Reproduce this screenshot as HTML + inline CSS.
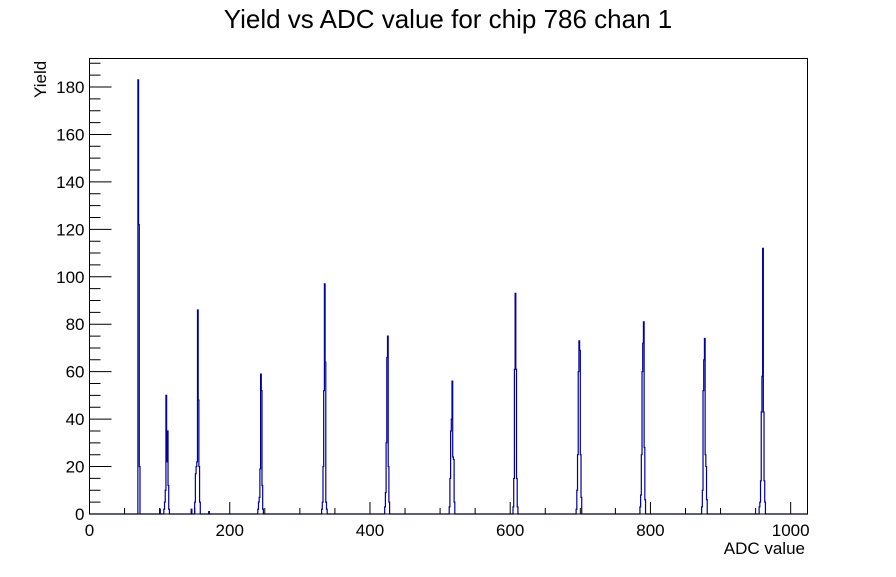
<!DOCTYPE html>
<html><head><meta charset="utf-8"><style>
body{margin:0;background:#fff}
svg text{font-family:"Liberation Sans",sans-serif;fill:#000}
</style></head><body>
<svg id="s" width="896" height="572" xmlns="http://www.w3.org/2000/svg">
<rect width="896" height="572" fill="#fff"/>
<text x="448" y="28" font-size="26" text-anchor="middle">Yield vs ADC value for chip 786 chan 1</text>
<text x="805" y="554" font-size="17" text-anchor="end">ADC value</text>
<text transform="translate(46,98) rotate(-90)" font-size="17">Yield</text>
<g id="ax" stroke="#000" stroke-width="1" fill="none"></g>
<g id="lb" font-size="17"></g>
<path id="h" fill="none" stroke="#00009c" stroke-width="1.2"/>
<rect x="89.5" y="58.5" width="718" height="455.5" fill="none" stroke="#000"/>
</svg>
<script>
const X0=89.5,PX=718/1024,Y0=514,SY=427/180;
const ax=document.getElementById('ax'),lb=document.getElementById('lb');
let d='';
for(let v=0;v<=1000;v+=50){const x=X0+v*PX;const L=v%200==0?12:6;d+=`M${x},${Y0}V${Y0-L}`;
 if(v%200==0)lb.innerHTML+=`<text x="${x}" y="536" text-anchor="middle">${v}</text>`;}
for(let v=0;v<=190;v+=5){const y=Y0-v*SY;const L=v%20==0?22:11;d+=`M${X0},${y}H${X0+L}`;
 if(v%20==0)lb.innerHTML+=`<text x="${X0-5}" y="${y+6}" text-anchor="end">${v}</text>`;}
ax.innerHTML=`<path d="${d}"/>`;
const b=new Array(1024).fill(0);
function p(s,vals){vals.forEach((v,i)=>b[s+i]=v);}
p(68,[0,183,122,20]);
p(106,[2,5,10,50,22,35,12,2]);
p(150,[5,17,20,22,86,48,20,5]);
p(240,[2,5,7,19,59,52,12,2]);
p(331,[2,5,20,52,97,64,5,2]);
p(421,[3,9,30,66,75,20,5]);
p(513,[3,15,35,40,56,24,23,5]);
p(604,[3,15,61,93,61,15,3]);
p(694,[2,10,25,60,73,69,25,7]);
p(785,[3,8,25,60,72,81,28,6]);
p(873,[3,10,52,65,74,25,20,6]);
p(955,[3,5,14,43,58,112,43,14,5]);
p(100,[2]);p(155-10,[0]);p(170,[1]);p(150-5,[2]);
let h=`M${X0},${Y0}`;let prev=0;
for(let i=0;i<1024;i++){if(b[i]!==prev){const x=X0+i*PX;h+=`H${x}V${Y0-b[i]*SY}`;prev=b[i];}}
h+=`H${X0+1024*PX}V${Y0}`;
document.getElementById('h').setAttribute('d',h);
</script>
</body></html>
